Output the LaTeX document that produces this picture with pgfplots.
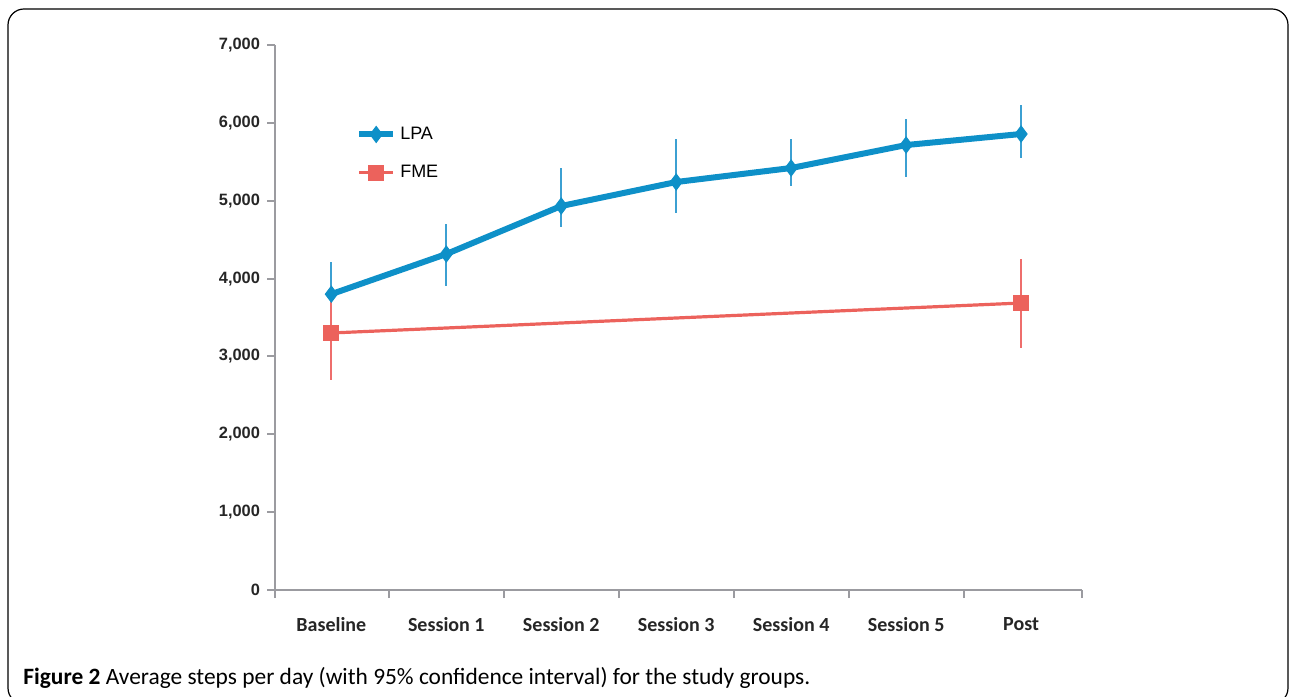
\documentclass[border=0pt]{standalone}
\usepackage{fontspec}
\setmainfont{Carlito}
\newfontfamily\arialfont{Liberation Sans}
\usepackage{pgfplots}
\usepackage{pgfplotstable}
\pgfplotsset{compat=1.18}
\definecolor{lpa}{RGB}{14,144,200}
\definecolor{lpaerr}{RGB}{60,160,210}
\definecolor{fme}{RGB}{236,98,92}
\definecolor{fmeerr}{RGB}{238,110,108}
\definecolor{axgray}{RGB}{155,155,160}

\pgfplotstableread{
x y ep em
0 3800 415 380
1 4315 386 411
2 4932 488 270
3 5240 552 398
4 5420 372 231
5 5715 334 411
6 5857 372 309
}\lpadata
\pgfplotstableread{
x y ep em
0 3301 600 604
6 3686 565 578
}\fmedata

\begin{document}
\begin{tikzpicture}
\useasboundingbox (0pt,0pt) rectangle (644.5pt,348pt);
\draw[black, line width=0.6pt, rounded corners=8pt] (4pt,-4pt) rectangle (644pt,343.5pt);
\begin{axis}[
  at={(137.5pt,53pt)}, anchor=south west,
  width=403.5pt, height=272.5pt, scale only axis,
  xmin=-0.49, xmax=6.53,
  ymin=0, ymax=7000,
  axis x line*=bottom, axis y line*=left,
  axis line style={axgray, line width=1.3pt, -},
  xtick={0,...,6},
  xticklabels={Baseline,Session 1,Session 2,Session 3,Session 4,Session 5,Post},
  major x tick style={draw=none},
  minor xtick={-0.49,0.5,1.5,2.5,3.5,4.5,5.5,6.53},
  minor x tick style={axgray, line width=1pt},
  minor tick length=4pt,
  xticklabel style={font=\fontsize{10}{12}\selectfont\bfseries, text=black!85, yshift=-6pt},
  ytick={0,1000,...,7000},
  major y tick style={axgray, line width=1pt},
  major tick length=4pt,
  tick align=outside,
  yticklabel style={font=\arialfont\fontsize{8.2}{10}\selectfont\bfseries, text=black!85},
  /pgf/number format/.cd, 1000 sep={,}, assume math mode=true,
  /pgfplots/.cd,
  legend style={at={(0.1,0.858)}, anchor=north west, draw=none, fill=none,
    font=\arialfont\fontsize{9}{11}\selectfont, row sep=7.5pt,
    inner sep=0pt},
  legend cell align=left,
  clip=false,
]
\addplot[lpa, line width=3pt, mark=diamond*, mark size=4pt,
  mark options={fill=lpa, draw=lpa, line width=0.5pt},
  error bars/.cd, y dir=both, y explicit, error mark=none,
  error bar style={lpaerr, line width=0.85pt}]
  table[x=x, y=y, y error plus=ep, y error minus=em] {\lpadata};
\addlegendentry{LPA}
\addplot[fme, line width=1.6pt, mark=square*, mark size=3.8pt,
  mark options={fill=fme, draw=fme, line width=0.5pt},
  error bars/.cd, y dir=both, y explicit, error mark=none,
  error bar style={fmeerr, line width=0.95pt}]
  table[x=x, y=y, y error plus=ep, y error minus=em] {\fmedata};
\addlegendentry{FME}
\end{axis}
\node[anchor=base west, inner sep=0pt, font=\fontsize{11.7}{14}\selectfont] at (11.5pt,6pt)
  {\textbf{Figure 2} Average steps per day (with 95\% confidence interval) for the study groups.};
\end{tikzpicture}
\end{document}
